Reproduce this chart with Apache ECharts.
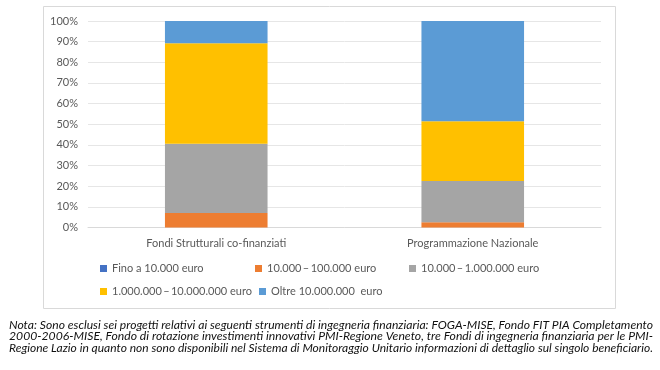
<!DOCTYPE html>
<html>
<head>
<meta charset="utf-8">
<script src="https://cdn.jsdelivr.net/npm/echarts@6/dist/echarts.min.js"></script>
<style>html,body{margin:0;padding:0;background:#fff}#c{width:660px;height:370px}</style>
</head>
<body>
<div id="c"></div>
<script>
const categories = ['Fondi Strutturali co-finanziati', 'Programmazione Nazionale'];
const seriesNames = ['Fino a 10.000 euro', '10.000\u2009–\u2009100.000 euro', '10.000\u2009–\u20091.000.000 euro', '1.000.000\u2009–\u200910.000.000 euro', 'Oltre 10.000.000  euro'];
const fino10k = [0, 0];
const da10kA100k = [7.0, 2.5];
const da10kA1M = [33.6, 20.0];
const da1MA10M = [48.6, 28.9];
const oltre10M = [10.8, 48.6];
const yTicks = [0, 10, 20, 30, 40, 50, 60, 70, 80, 90, 100];
const noteLines = [
  'Nota: Sono esclusi sei progetti relativi ai seguenti strumenti di ingegneria finanziaria: FOGA-MISE, Fondo FIT PIA Completamento',
  '2000-2006-MISE, Fondo di rotazione investimenti innovativi PMI-Regione Veneto, tre Fondi di ingegneria finanziaria per le PMI-',
  'Regione Lazio in quanto non sono disponibili nel Sistema di Monitoraggio Unitario informazioni di dettaglio sul singolo beneficiario.'
];

const colors = ['#4472C4', '#ED7D31', '#A5A5A5', '#FFC000', '#5B9BD5'];
const values = [fino10k, da10kA100k, da10kA1M, da1MA10M, oltre10M];
const font = 'Lato';

const chart = echarts.init(document.getElementById('c'));

const legendPos = [[100, 263], [255, 263], [409, 263], [100, 286], [259, 286]];
const legends = seriesNames.map((n, i) => ({
  data: [n],
  left: legendPos[i][0],
  top: legendPos[i][1],
  icon: 'rect',
  itemWidth: 7,
  itemHeight: 7,
  itemGap: 0,
  padding: 0,
  selectedMode: false,
  textStyle: { color: '#595959', fontSize: 11, fontFamily: font }
}));

const ctx = document.createElement('canvas').getContext('2d');
const noteFont = 'italic 11px ' + font;
ctx.font = noteFont;
const noteLeft = 9, noteRight = 653;
const noteYs = [325, 336.5, 348];
const noteGraphics = noteLines.map((t, i) => {
  const w = ctx.measureText(t).width;
  return {
    type: 'text',
    x: noteLeft,
    y: noteYs[i],
    scaleX: (noteRight - noteLeft) / w,
    style: { text: t, font: noteFont, fill: '#111', textVerticalAlign: 'middle', textAlign: 'left' }
  };
});

chart.setOption({
  animation: false,
  color: colors,
  grid: { left: 88, right: 59, top: 21, bottom: 142.5 },
  legend: legends,
  xAxis: {
    type: 'category',
    data: categories,
    axisLine: { lineStyle: { color: '#D9D9D9' } },
    axisTick: { show: false },
    axisLabel: { color: '#595959', fontSize: 11, fontFamily: font, margin: 10 }
  },
  yAxis: {
    type: 'value',
    min: yTicks[0],
    max: yTicks[yTicks.length - 1],
    interval: 10,
    axisLine: { show: false },
    axisTick: { show: false },
    splitLine: { lineStyle: { color: '#E6E6E6' } },
    axisLabel: { color: '#595959', fontSize: 11, fontFamily: font, margin: 10, formatter: v => v + '%' }
  },
  series: seriesNames.map((n, i) => ({
    name: n,
    type: 'bar',
    stack: 'total',
    barCategoryGap: '60%',
    data: values[i],
    itemStyle: { color: colors[i] }
  })),
  graphic: [
    {
      type: 'rect',
      shape: { x: 43.5, y: 6.5, width: 572, height: 302 },
      style: { fill: 'none', stroke: '#D9D9D9', lineWidth: 1 },
      silent: true
    }
  ].concat(noteGraphics)
});
</script>
</body>
</html>
